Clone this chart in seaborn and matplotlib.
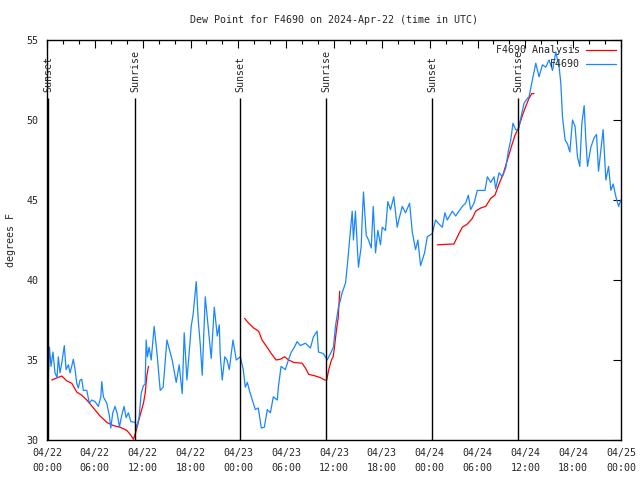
import numpy as np, pandas as pd, matplotlib
matplotlib.use("Agg")
import matplotlib.pyplot as plt
import matplotlib.dates as mdates
import seaborn as sns

# hours since 2024-04-22 00:00 UTC
obs_hr=[0.16,0.31,0.50,0.75,1.00,1.26,1.42,1.63,1.85,2.17,2.39,2.68,2.89,3.10,3.30,3.52,3.73,3.93,4.15,4.36,
 4.56,4.99,5.31,5.62,6.03,6.44,6.75,6.87,7.07,7.50,7.83,8.00,8.25,8.54,8.83,9.08,9.38,9.67,9.92,10.21,
 10.52,11.06,11.27,11.56,11.81,12.10,12.31,12.44,12.60,12.81,13.07,13.44,13.82,14.20,14.57,15.04,15.33,15.70,16.21,16.58,
 16.96,17.21,17.55,17.84,18.09,18.34,18.72,18.97,19.22,19.47,19.85,20.23,20.60,20.98,21.36,21.61,21.73,21.98,22.30,22.58,
 22.86,23.33,23.74,24.25,24.62,24.87,25.13,25.38,25.75,26.13,26.51,26.88,27.26,27.64,28.02,28.39,28.89,29.02,29.36,29.90,
 30.28,30.65,31.03,31.37,31.78,32.41,33.04,33.42,33.88,34.05,34.67,35.14,35.55,35.93,36.18,36.56,36.81,37.02,37.44,37.65,
 37.81,38.15,38.28,38.44,38.69,38.94,39.07,39.41,39.53,39.70,40.04,40.33,40.67,40.92,41.21,41.50,41.83,42.05,42.46,42.75,
 43.09,43.50,43.93,44.13,44.56,44.97,45.48,45.82,46.23,46.52,46.86,47.36,47.70,48.33,48.74,49.16,49.59,49.91,50.21,50.84,
 51.26,51.67,52.10,52.51,52.85,53.14,53.56,53.98,54.40,54.94,55.24,55.65,56.07,56.28,56.70,57.12,57.54,57.88,58.17,58.45,
 58.79,59.13,59.42,59.84,60.26,60.46,60.89,61.31,61.72,62.15,62.56,62.98,63.41,63.82,64.24,64.45,64.66,64.99,65.29,65.58,
 65.92,66.24,66.54,66.83,67.09,67.38,67.59,67.80,68.22,68.63,68.93,69.18,69.47,69.76,70.10,70.44,70.73,71.02,71.36,71.70,71.98]
obs_dew=[33.95,35.8,34.6,35.5,34.2,33.9,35.2,34.2,34.8,35.9,34.4,34.7,34.2,34.6,35.05,34.4,33.55,33.25,33.75,33.8,
 33.1,33.1,32.3,32.5,32.4,32.1,32.7,33.65,32.7,32.3,31.5,30.75,31.7,32.1,31.6,30.8,31.55,32.1,31.4,31.7,
 31.15,31.1,30.8,31.45,32.9,33.4,33.5,36.25,35.2,35.8,35.0,37.1,35.3,33.1,33.3,36.25,35.7,35.0,33.6,34.7,
 32.9,36.7,33.75,35.5,37.1,37.9,39.9,37.5,36.0,34.05,38.95,37.0,35.1,38.3,36.5,37.2,35.3,33.75,35.2,35.0,
 34.4,36.25,35.0,35.2,34.4,33.3,33.6,33.1,32.5,31.9,32.0,30.75,30.8,31.9,31.7,32.7,32.5,33.3,34.6,34.4,
 35.0,35.5,35.8,36.15,35.9,36.05,35.75,36.45,36.8,35.5,35.4,35.0,35.4,35.8,37.1,38.3,38.75,39.2,39.8,40.8,
 41.7,43.6,44.3,42.5,44.3,41.9,40.8,42.1,43.75,45.5,42.8,42.5,42.0,44.6,41.7,43.1,42.2,43.3,43.1,44.9,
 44.4,45.2,43.3,43.75,44.6,44.2,44.8,43.0,41.9,42.5,40.9,41.7,42.7,42.9,43.75,43.5,43.3,44.2,43.75,44.3,
 44.0,44.3,44.6,44.8,45.3,44.4,44.8,45.6,45.6,45.6,46.45,46.1,46.45,45.7,46.7,46.45,47.0,48.1,48.75,49.8,
 49.4,49.4,50.1,51.05,51.35,51.45,52.5,53.55,52.7,53.45,53.3,53.75,53.1,54.25,53.3,52.3,50.2,48.75,48.5,48.0,
 50.0,49.6,47.7,47.1,49.8,50.9,48.75,47.1,48.3,48.9,49.1,46.8,48.1,49.4,46.25,47.1,45.6,46.0,45.2,44.6,45.0]

ana_seg=[1]*22+[2]*26+[3]*22
ana_hr=[0.59,1.85,2.47,3.10,3.73,4.36,4.99,5.82,6.66,7.50,8.33,9.17,10.01,10.52,10.84,11.14,11.34,11.68,12.10,12.31,12.53,12.73,
 24.79,25.29,25.92,26.55,26.97,27.60,28.14,28.73,29.27,29.81,30.31,30.94,32.00,32.41,32.83,33.67,34.30,34.84,35.09,35.34,35.68,35.89,36.06,36.31,36.52,36.72,
 48.96,51.04,51.67,52.10,52.73,53.35,53.77,54.40,55.03,55.65,56.19,56.70,57.20,57.75,58.29,58.71,59.13,59.64,60.05,60.46,60.80,61.09]
ana_dew=[33.75,34.0,33.7,33.55,33.0,32.8,32.5,32.0,31.5,31.1,30.9,30.8,30.6,30.3,30.05,30.5,30.9,31.55,32.3,32.9,34.05,34.6,
 37.6,37.3,37.0,36.8,36.25,35.8,35.4,35.0,35.05,35.2,35.0,34.85,34.8,34.5,34.1,34.0,33.9,33.75,33.75,34.4,35.0,35.2,35.8,36.9,37.6,39.3,
 42.2,42.25,42.9,43.3,43.5,43.85,44.3,44.5,44.6,45.1,45.3,46.0,46.6,47.5,48.4,49.05,49.5,50.3,50.85,51.35,51.65,51.65]

sun_hr=[0.13,11.08,24.21,35.04,48.34,59.13]
sun_lbl=["Sunset","Sunrise","Sunset","Sunrise","Sunset","Sunrise"]

t0=pd.Timestamp("2024-04-22 00:00")
obs=pd.DataFrame({"time":t0+pd.to_timedelta(obs_hr,unit="h"),"dew":obs_dew})
ana=pd.DataFrame({"time":t0+pd.to_timedelta(ana_hr,unit="h"),"dew":ana_dew,"seg":ana_seg})
sun_t=t0+pd.to_timedelta(sun_hr,unit="h")

sns.set_style("white")
plt.rcParams["font.family"]=["DejaVu Sans Mono"]
plt.rcParams["font.size"]=7.2

fig=plt.figure(figsize=(6.4,4.8),dpi=100)
ax=fig.add_axes([47/640,40/480,574/640,400/480])
sns.lineplot(data=ana,x="time",y="dew",units="seg",estimator=None,sort=False,color="#ff0000",lw=0.9,ax=ax)
sns.lineplot(data=obs,x="time",y="dew",estimator=None,sort=False,color="#1a86ff",lw=0.9,ax=ax)
ax.vlines(sun_t,30,51.35,color="black",lw=1)
for t,l in zip(sun_t,sun_lbl):
    ax.text(t,51.75,l,rotation=90,ha="center",va="bottom",fontsize=7.2)

ax.set_xlim(t0,t0+pd.Timedelta(hours=72)); ax.set_ylim(30,55)
ax.set_yticks([30,35,40,45,50,55])
ax.xaxis.set_major_locator(mdates.HourLocator(byhour=[0,6,12,18]))
ax.xaxis.set_minor_locator(mdates.HourLocator(interval=2))
ax.xaxis.set_major_formatter(mdates.DateFormatter("%m/%d\n%H:%M"))
ax.tick_params(which="both",direction="in",top=True,right=True,color="black",width=0.8)
ax.tick_params(which="major",length=6,labelsize=7.2,pad=6)
ax.tick_params(which="minor",length=3)
for lab in ax.get_xticklabels(): lab.set_linespacing(1.6)
for s in ax.spines.values(): s.set_color("black"); s.set_linewidth(1)
ax.set_xlabel(""); ax.set_ylabel("degrees F",labelpad=8)
ax.set_title("Dew Point for F4690 on 2024-Apr-22 (time in UTC)",fontsize=7.2,pad=12)
hs=[plt.Line2D([],[],color="#ff0000",lw=0.9),plt.Line2D([],[],color="#1a86ff",lw=0.9)]
ax.legend(hs,["F4690 Analysis","F4690"],loc="upper right",frameon=False,markerfirst=False,handlelength=3,handletextpad=0.6,labelspacing=0.4,borderaxespad=0.15,fontsize=7.2)
fig.savefig("out.png",dpi=100)
